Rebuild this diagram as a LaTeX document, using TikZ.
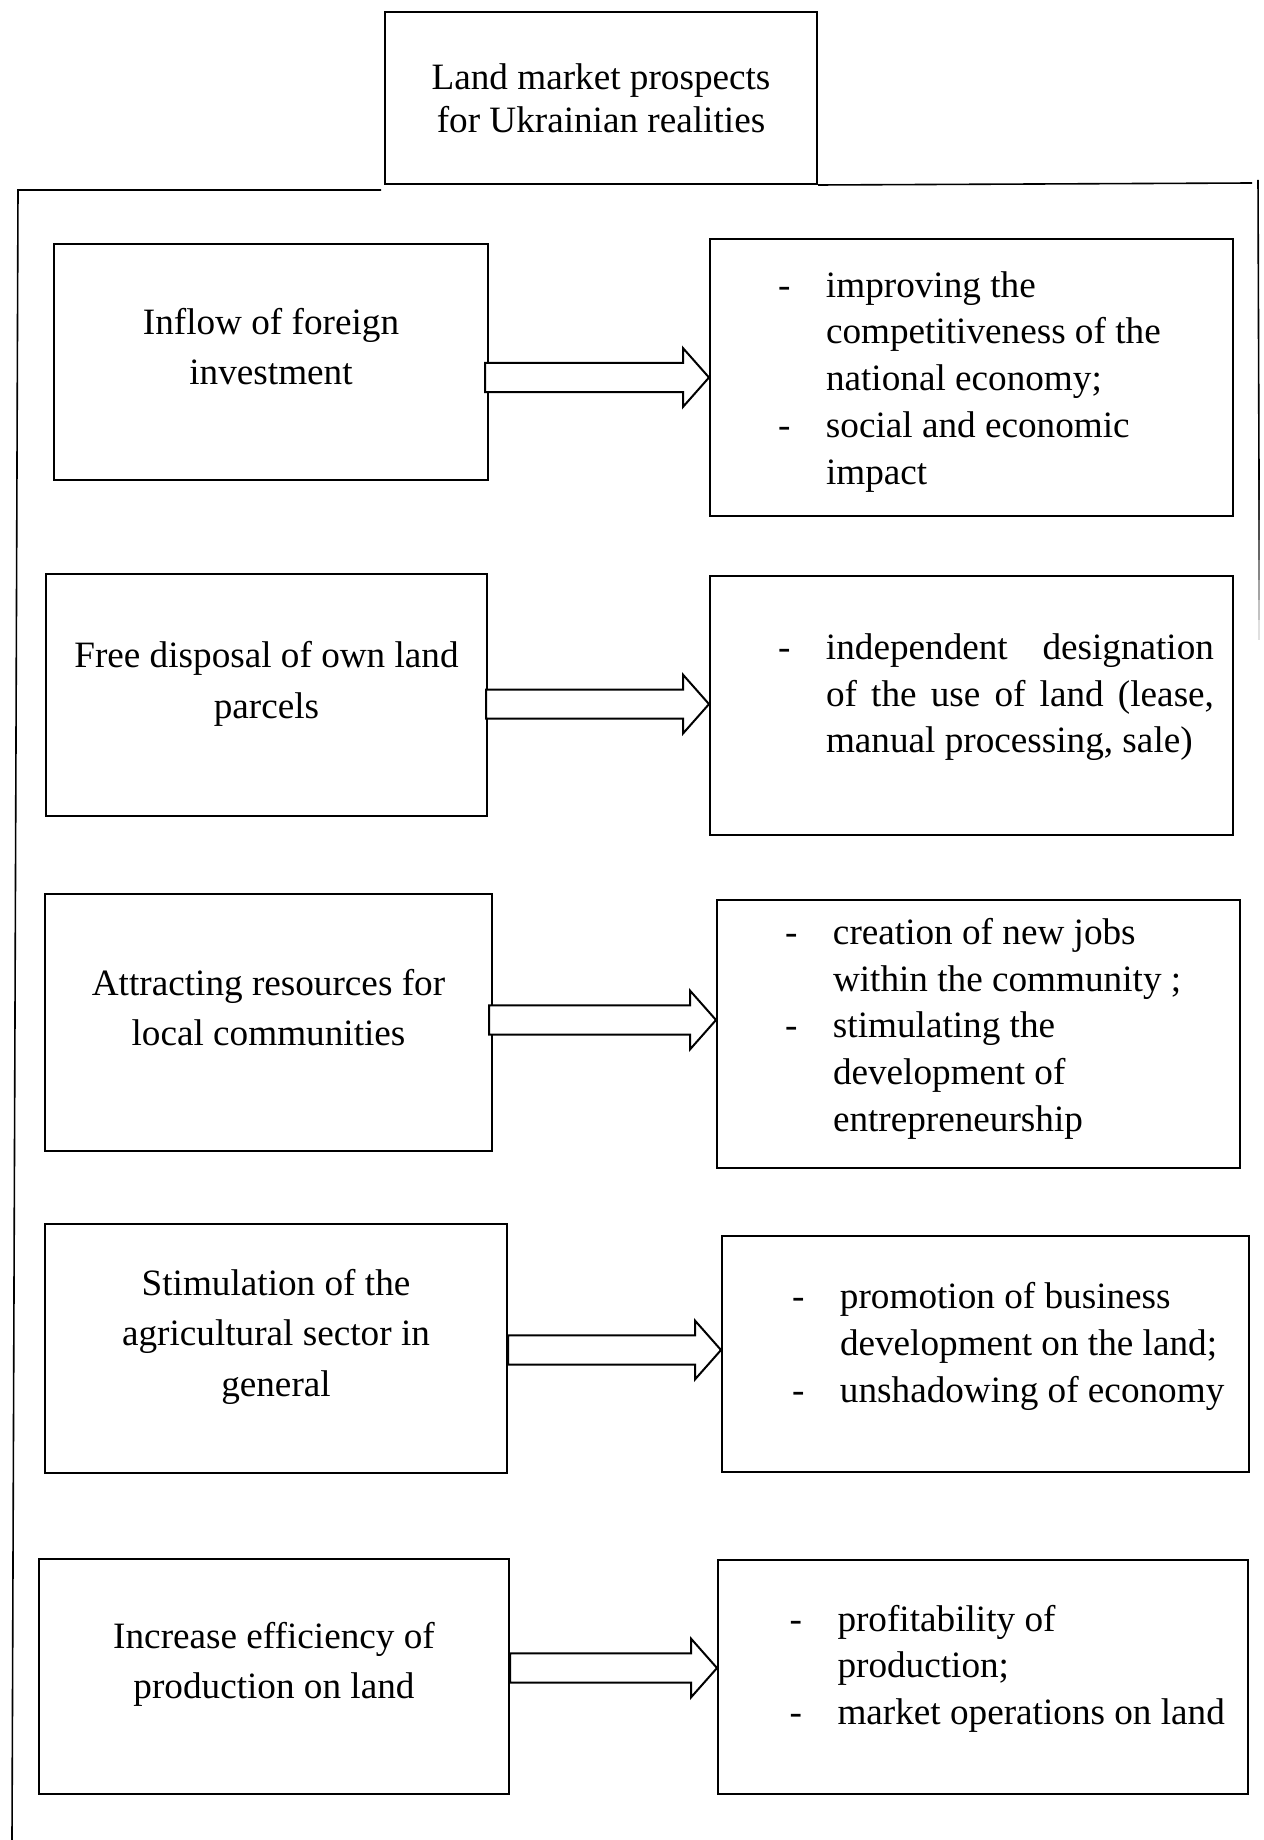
\documentclass[tikz,border=0pt]{standalone}
\usepackage{fontspec}
\setmainfont{Liberation Serif}
\usetikzlibrary{calc}

% dash list item for the right boxes
\newcommand{\dashitem}[1]{\noindent\hangindent=21pt\hangafter=1\makebox[21pt][l]{\hspace{-3pt}-}#1\par}

\begin{document}
\begin{tikzpicture}[
    x=0.5pt, y=-0.5pt,
    every node/.style={draw, line width=1pt, inner sep=0pt},
    headbox/.style={minimum width=216pt, minimum height=86pt, align=center, font=\fontsize{18.6pt}{21.7pt}\selectfont},
    leftbox/.style={},
    lefttext/.style={draw=none, align=center, font=\fontsize{18.6pt}{25.2pt}\selectfont},
    rightbox/.style={minimum width=261.5pt},
    righttext/.style={draw=none, text width=242.5pt, align=justify, font=\fontsize{18.6pt}{23.4pt}\selectfont},
    frame/.style={line width=0.8pt},
    fatarrow/.style={draw, fill=white, line width=1pt, line join=miter,
      to path={let \p1=(\tikztostart), \p2=(\tikztotarget) in
        (\x1,\y2+7.3pt) -- (\x2-13pt,\y2+7.3pt) -- (\x2-13pt,\y2+14.7pt) -- (\x2,\y2)
        -- (\x2-13pt,\y2-14.7pt) -- (\x2-13pt,\y2-7.3pt) -- (\x1,\y2-7.3pt) -- cycle}}
    ]
    \useasboundingbox (0,0) rectangle (1263,1840);

    % heading
    \node[headbox] (T) at (601,98) {Land market prospects\\for Ukrainian realities};

    % frame round the blocks
    \coordinate (fa) at (381,190);
    \coordinate (fb) at (18,190);
    \coordinate (fc) at (12,1840);
    \coordinate (fd) at (1252,183);
    \coordinate (fe) at (1258,180);
    \coordinate (ff) at (1259,480);
    \draw[frame] (fa) -- (fb) -- (fc);
    \draw[frame] (T.south east) -- (fd);
    \draw[frame] (fe) -- (ff);
    % right edge fades out
    \foreach \k/\tone in {1/90,2/80,3/70,4/60,5/48,6/36,7/24,8/12}
      \draw[frame, black!\tone] ($(ff)+(0,20*\k-20)$) -- ($(ff)+(0,20*\k)$);

    % left column
    \node[leftbox, minimum width=217pt, minimum height=118pt] (L1) at (271,362) {};
    \node[lefttext] (L1t) at ([yshift=7.6pt]L1.center) {Inflow of foreign\\investment};
    \node[leftbox, minimum width=220.5pt, minimum height=121pt] (L2) at (266.5,695) {};
    \node[lefttext] (L2t) at ([yshift=5.6pt]L2.center) {Free disposal of own land\\parcels};
    \node[leftbox, minimum width=223.5pt, minimum height=128.5pt] (L3) at (268.5,1022.5) {};
    \node[lefttext] (L3t) at ([yshift=7.6pt]L3.center) {Attracting resources for\\local communities};
    \node[leftbox, minimum width=231pt, minimum height=124.5pt] (L4) at (276,1348.5) {};
    \node[lefttext] (L4t) at ([yshift=5.9pt]L4.center) {Stimulation of the\\agricultural sector in\\general};
    \node[leftbox, minimum width=235pt, minimum height=117.5pt] (L5) at (274,1676.5) {};
    \node[lefttext] (L5t) at ([yshift=6.2pt]L5.center) {Increase efficiency of\\production on land};

    % right column
    \node[rightbox, minimum height=138.5pt] (R1) at (971.5,377.5) {};
    \node[righttext] (R1t) at ([yshift=-2.1pt]R1.center) {\leftskip=27.5pt
      \dashitem{improving the\newline competitiveness of the\newline national economy;}
      \dashitem{social and economic\newline impact}};
    \node[rightbox, minimum height=129.5pt] (R2) at (971.5,705.5) {};
    \node[righttext] (R2t) at ([yshift=4.1pt]R2.center) {\leftskip=27.5pt
      \dashitem{independent designation\linebreak of the use of land (lease,\linebreak manual processing, sale)}};
    \node[rightbox, minimum height=134pt] (R3) at (978.5,1034) {};
    \node[righttext] (R3t) at ([yshift=2.6pt]R3.center) {\leftskip=27.5pt
      \dashitem{creation of new jobs\newline within the community ;}
      \dashitem{stimulating the\newline development of\newline entrepreneurship}};
    \node[rightbox, minimum width=263.5pt, minimum height=118pt] (R4) at (985.5,1354) {};
    \node[righttext] (R4t) at ([yshift=3.8pt]R4.center) {\leftskip=27.5pt
      \dashitem{promotion of business\newline development on the land;}
      \dashitem{unshadowing of economy}};
    \node[rightbox, minimum width=265pt, minimum height=117pt] (R5) at (983,1677) {};
    \node[righttext] (R5t) at ([yshift=4.1pt]R5.center) {\leftskip=27.5pt
      \dashitem{profitability of\newline production;}
      \dashitem{market operations on land}};

    % block arrows
    \draw[fatarrow] ([xshift=-2pt]L1.east) to (R1.west);
    \draw[fatarrow] ([xshift=-1pt]L2.east) to ([yshift=0.7pt]R2.west);
    \draw[fatarrow] ([xshift=-2pt]L3.east) to ([yshift=7pt]R3.west);
    \draw[fatarrow] (L4.east) to ([yshift=2pt]R4.west);
    \draw[fatarrow] (L5.east) to ([yshift=4.5pt]R5.west);
\end{tikzpicture}
\end{document}
